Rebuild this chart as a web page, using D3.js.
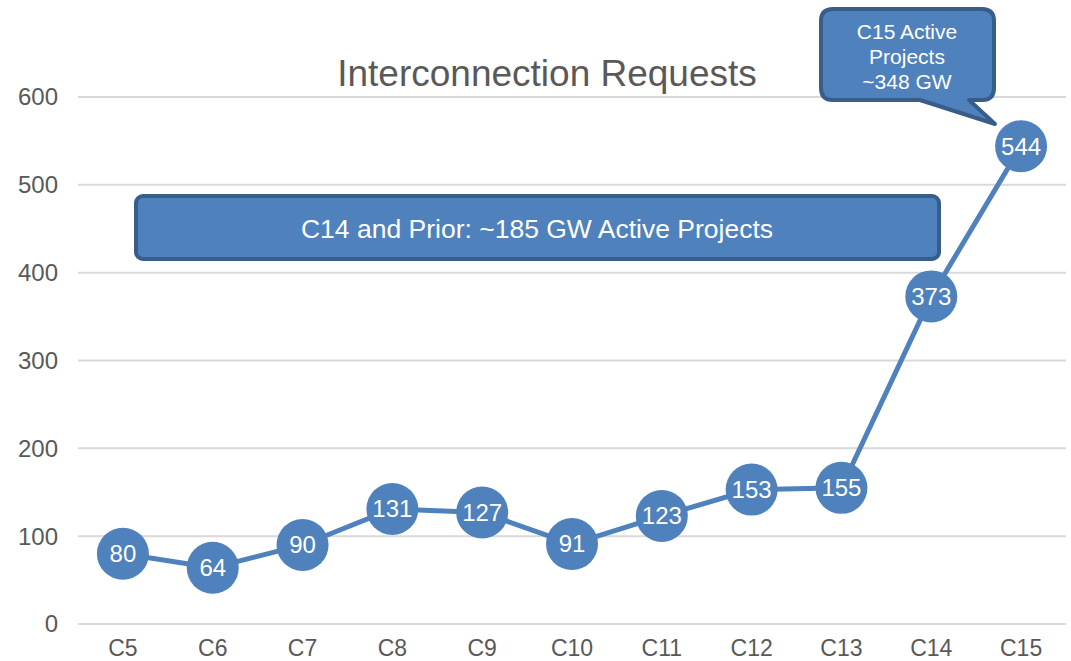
<!DOCTYPE html>
<html>
<head>
<meta charset="utf-8">
<script src="https://cdn.jsdelivr.net/npm/d3@7"></script>
<style>
  body { margin: 0; background: #fff; }
  svg { font-family: "Liberation Sans", Arial, sans-serif; }
</style>
</head>
<body>
<svg id="chart" width="1071" height="661"></svg>
<script>
var categories = ["C5", "C6", "C7", "C8", "C9", "C10", "C11", "C12", "C13", "C14", "C15"];
var requests = [80, 64, 90, 131, 127, 91, 123, 153, 155, 373, 544];
var yTicks = [0, 100, 200, 300, 400, 500, 600];
var calloutLines = ["C15 Active", "Projects", "~348 GW"];
var boxText = "C14 and Prior: ~185 GW Active Projects";

var WIDTH = 1071, HEIGHT = 661,
    MARGINS = { top: 97, right: 5, bottom: 37, left: 78 };

var svg = d3.select("#chart");

var xScale = d3.scaleBand().domain(categories)
    .range([MARGINS.left, WIDTH - MARGINS.right]);
var yScale = d3.scaleLinear().domain([0, 600])
    .range([HEIGHT - MARGINS.bottom, MARGINS.top]);
var cx = function(d, i) { return xScale(categories[i]) + xScale.bandwidth() / 2; };

// gridlines
svg.append("g").selectAll("line")
    .data(yTicks).enter().append("line")
    .attr("x1", MARGINS.left).attr("x2", WIDTH - MARGINS.right)
    .attr("y1", function(d) { return yScale(d); })
    .attr("y2", function(d) { return yScale(d); })
    .attr("stroke", "#d9d9d9").attr("stroke-width", 2);

// y labels
svg.append("g").selectAll("text")
    .data(yTicks).enter().append("text")
    .attr("x", 58).attr("y", function(d) { return yScale(d); })
    .attr("dy", "0.35em").attr("text-anchor", "end")
    .attr("font-size", 24).attr("fill", "#595959")
    .text(function(d) { return d; });

// x labels
svg.append("g").selectAll("text")
    .data(categories).enter().append("text")
    .attr("x", function(d) { return xScale(d) + xScale.bandwidth() / 2; })
    .attr("y", 656).attr("text-anchor", "middle")
    .attr("font-size", 23).attr("fill", "#595959")
    .text(function(d) { return d; });

// title
svg.append("text")
    .attr("x", 547).attr("y", 86).attr("text-anchor", "middle")
    .attr("font-size", 37).attr("fill", "#595959")
    .text("Interconnection Requests");

// box annotation
svg.append("rect")
    .attr("x", 136).attr("y", 196).attr("width", 803).attr("height", 63)
    .attr("rx", 7)
    .attr("fill", "#4f81bd").attr("stroke", "#385d8a").attr("stroke-width", 4);
svg.append("text")
    .attr("x", 537).attr("y", 229).attr("dy", "0.35em")
    .attr("text-anchor", "middle").attr("font-size", 26.5).attr("fill", "#fff")
    .text(boxText);

// line
var lineGen = d3.line()
    .x(function(d, i) { return cx(d, i); })
    .y(function(d) { return yScale(d); });

svg.append("path")
    .attr("d", lineGen(requests))
    .attr("stroke", "#4f81bd").attr("stroke-width", 5).attr("fill", "none");

svg.selectAll(".point")
    .data(requests).enter().append("circle")
    .attr("class", "point")
    .attr("r", 26)
    .attr("cx", cx)
    .attr("cy", function(d) { return yScale(d); })
    .attr("fill", "#4f81bd");

svg.selectAll(".label")
    .data(requests).enter().append("text")
    .attr("class", "label")
    .attr("x", cx)
    .attr("y", function(d) { return yScale(d); })
    .attr("dy", "0.35em").attr("text-anchor", "middle")
    .attr("font-size", 24).attr("fill", "#fff")
    .text(function(d) { return d; });

// callout
var cL = 821, cT = 9, cR = 994, cB = 100, r = 12;
var calloutPath = "M" + (cL + r) + "," + cT +
    " L" + (cR - r) + "," + cT +
    " Q" + cR + "," + cT + " " + cR + "," + (cT + r) +
    " L" + cR + "," + (cB - r) +
    " Q" + cR + "," + cB + " " + (cR - r) + "," + cB +
    " L969," + cB + " L995,124 L920," + cB +
    " L" + (cL + r) + "," + cB +
    " Q" + cL + "," + cB + " " + cL + "," + (cB - r) +
    " L" + cL + "," + (cT + r) +
    " Q" + cL + "," + cT + " " + (cL + r) + "," + cT + " Z";
svg.append("path")
    .attr("d", calloutPath)
    .attr("fill", "#4f81bd").attr("stroke", "#385d8a")
    .attr("stroke-width", 4).attr("stroke-linejoin", "round");
svg.append("g").selectAll("text")
    .data(calloutLines).enter().append("text")
    .attr("x", 907)
    .attr("y", function(d, i) { return 32 + i * 25; })
    .attr("dy", "0.35em").attr("text-anchor", "middle")
    .attr("font-size", 21).attr("fill", "#fff")
    .text(function(d) { return d; });
</script>
</body>
</html>
